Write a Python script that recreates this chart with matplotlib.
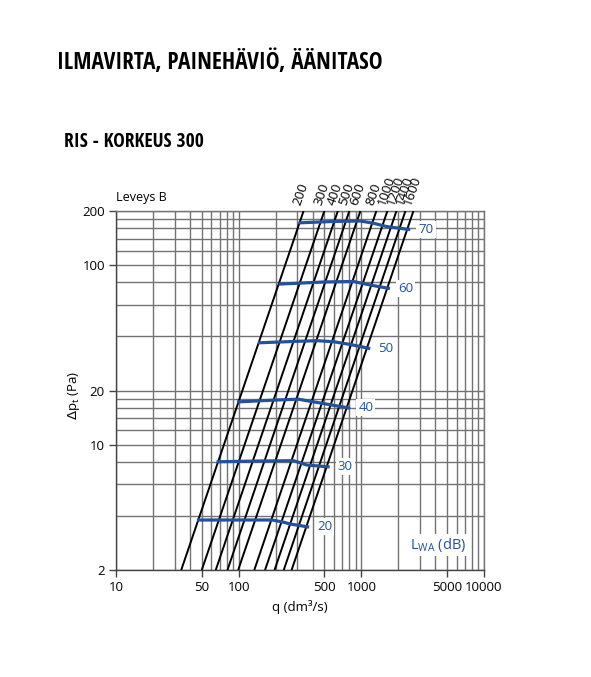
import numpy
from matplotlib import pyplot, font_manager
from matplotlib.ticker import FixedLocator, NullFormatter

# widths B (mm) and flow rate read at 200 Pa (top) and 2 Pa (bottom)
widths = [200, 300, 400, 500, 600, 800, 1000, 1200, 1400, 1600]
q_top = [338, 499, 643, 798, 982, 1325, 1630, 1932, 2287, 2657]
q_bottom = [34, 50, 65, 81, 99, 134, 164, 196, 233, 270]

# sound power level curves L_WA (dB)
sound_levels = [20, 30, 40, 50, 60, 70]
sound_q = [
    [47, 120, 187, 230, 263, 364],
    [68, 150, 280, 320, 360, 535],
    [100, 200, 308, 350, 408, 787],
    [148, 300, 435, 594, 813, 1147],
    [218, 500, 861, 1079, 1300, 1660],
    [318, 600, 982, 1253, 1622, 2432],
]
sound_dp = [
    [3.80, 3.80, 3.80, 3.70, 3.61, 3.48],
    [8.02, 8.10, 8.13, 7.90, 7.69, 7.52],
    [17.3, 17.7, 17.9, 17.6, 17.3, 16.0],
    [36.9, 37.6, 37.9, 37.4, 36.1, 34.4],
    [78.4, 80.5, 81.0, 78.4, 76.5, 74.2],
    [172, 175, 176, 171, 163.6, 158],
]

x_ticks = [10, 50, 100, 500, 1000, 5000, 10000]
y_ticks = [2, 10, 20, 100, 200]
y_grid = [2, 4, 6, 8, 10, 12, 14, 16, 18, 20, 40, 60, 80, 100,
          120, 140, 160, 180, 200]
x_grid = [m * 10 ** d for d in range(1, 4) for m in range(1, 10)] + [10000]

blue = '#23519b'
grid_color = '#737373'


def condensed_bold():
    # narrowest installed bold face we can find for the headings
    prefs = ['open sans condensed', 'roboto condensed', 'narrow', 'condensed']
    cands = []
    for f in font_manager.fontManager.ttflist:
        name = (f.name + ' ' + f.fname).lower()
        if 'italic' in name or 'oblique' in name:
            continue
        bold = f.weight in ('bold', 700) or 'bold' in f.fname.lower()
        if not bold or 'semibold' in name or 'extrabold' in name:
            continue
        for rank, p in enumerate(prefs):
            if p in name or (p == 'condensed' and f.stretch == 'condensed'):
                cands.append((rank, f.fname))
                break
    if cands:
        cands.sort()
        return font_manager.FontProperties(fname=cands[0][1])
    return font_manager.FontProperties(family='DejaVu Sans', weight='bold')


def fit_text(fig, x, y, s, prop, max_size, width_px):
    t = fig.text(x, y, s, fontproperties=prop, fontsize=max_size,
                 ha='left', va='center')
    r = fig.canvas.get_renderer()
    w = t.get_window_extent(r).width
    if w > width_px:
        t.set_fontsize(max_size * width_px / w)
    return t


if __name__ == '__main__':
    pyplot.rcParams['font.family'] = ['Open Sans', 'DejaVu Sans']
    fig = pyplot.figure(figsize=(5.91, 6.77), dpi=100)
    ax = fig.add_axes([0.1963, 0.158, 0.6227, 0.5303])
    ax.set_xscale('log')
    ax.set_yscale('log')
    ax.set_xlim(10, 10000)
    ax.set_ylim(2, 200)

    for x in x_grid:
        ax.axvline(x, color=grid_color, lw=1.0, zorder=1)
    for y in y_grid:
        ax.axhline(y, color=grid_color, lw=1.0, zorder=1)

    # black lines per width
    for b, qt, qb in zip(widths, q_top, q_bottom):
        ax.plot([qb, qt], [2, 200], color='black', lw=1.4, zorder=3,
                solid_capstyle='butt')
        ax.annotate(str(b), xy=(qt, 200), xytext=(0, 3),
                    textcoords='offset points', rotation=71,
                    rotation_mode='anchor', ha='left', va='bottom',
                    fontsize=9.5, color='black')

    # sound level curves
    for lvl, qs, ps in zip(sound_levels, sound_q, sound_dp):
        ax.plot(qs, ps, color=blue, lw=2.3, zorder=4)
        ax.annotate(str(lvl), xy=(qs[-1], ps[-1]), xytext=(7, 0),
                    textcoords='offset points', ha='left', va='center',
                    fontsize=9.5, color=blue, zorder=5,
                    bbox=dict(boxstyle='square,pad=0.15', fc='white',
                              ec='none'))

    ax.text(2500, 2.75, r'L$_{\mathregular{WA}}$ (dB)', color=blue,
            fontsize=10.5, ha='left', va='center', zorder=5,
            bbox=dict(boxstyle='square,pad=0.15', fc='white', ec='none'))

    ax.xaxis.set_major_locator(FixedLocator(x_ticks))
    ax.xaxis.set_minor_locator(FixedLocator([]))
    ax.yaxis.set_major_locator(FixedLocator(y_ticks))
    ax.yaxis.set_minor_locator(FixedLocator([]))
    ax.set_xticklabels([str(t) for t in x_ticks])
    ax.set_yticklabels([str(t) for t in y_ticks])
    ax.xaxis.set_minor_formatter(NullFormatter())
    ax.yaxis.set_minor_formatter(NullFormatter())
    ax.tick_params(axis='both', direction='out', length=5, width=1,
                   color='#444444', labelsize=9.5, pad=3)
    for s in ax.spines.values():
        s.set_color(grid_color)
        s.set_linewidth(1.0)
    ax.spines['left'].set_color('#444444')
    ax.spines['bottom'].set_color('#444444')

    ax.set_xlabel('q (dm³/s)', fontsize=9.5, labelpad=4)
    ax.set_ylabel(r'$\Delta$p$_\mathregular{t}$ (Pa)', fontsize=9.5)
    ax.yaxis.set_label_coords(-0.092, 0.487)

    fig.text(116 / 591, 1 - 198 / 677, 'Leveys B', fontsize=9,
             ha='left', va='center')

    head = condensed_bold()
    fit_text(fig, 57 / 591, 1 - 63 / 677, 'ILMAVIRTA, PAINEHÄVIÖ, ÄÄNITASO',
             head, 17, 326)
    fit_text(fig, 64 / 591, 1 - 142 / 677, 'RIS - KORKEUS 300',
             head, 14, 146)

    fig.savefig('out.png', dpi=100)
